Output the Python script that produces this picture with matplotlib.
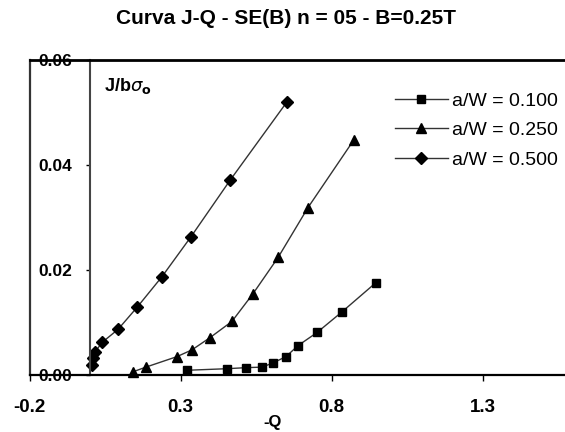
import matplotlib
matplotlib.use("Agg")
import matplotlib.pyplot as plt

# ---- data ----
x_010 = [0.321, 0.454, 0.517, 0.570, 0.606, 0.649, 0.689, 0.752, 0.834, 0.947]
y_010 = [0.0009, 0.0012, 0.0014, 0.0015, 0.0023, 0.0035, 0.0056, 0.0081, 0.0120, 0.0176]

x_025 = [0.142, 0.185, 0.288, 0.338, 0.397, 0.470, 0.540, 0.623, 0.722, 0.874]
y_025 = [0.0006, 0.0015, 0.0035, 0.0048, 0.0071, 0.0102, 0.0155, 0.0224, 0.0319, 0.0448]

x_050 = [0.007, 0.010, 0.017, 0.040, 0.093, 0.156, 0.238, 0.334, 0.464, 0.652]
y_050 = [0.0019, 0.0033, 0.0044, 0.0062, 0.0087, 0.0129, 0.0187, 0.0263, 0.0371, 0.0520]

labels = ["a/W = 0.100", "a/W = 0.250", "a/W = 0.500"]
x_ticks = [-0.2, 0.3, 0.8, 1.3]
x_ticklabels = ["-0.2", "0.3", "0.8", "1.3"]
y_ticks = [0.00, 0.02, 0.04, 0.06]
y_ticklabels = ["0.00", "0.02", "0.04", "0.06"]
title = "Curva J-Q - SE(B) n = 05 - B=0.25T"

fam = "Liberation Sans"

fig = plt.figure(figsize=(5.65, 4.32), dpi=100)
W, H = 565, 432
left_px, right_px, top_px, bot_px = 29.6, 565, 60, 375
ax = fig.add_axes([left_px / W, 1 - bot_px / H, (right_px - left_px) / W, (bot_px - top_px) / H])
ax.set_xlim(-0.2, 1.573)
ax.set_ylim(0, 0.06)

kw = dict(color="#333333", lw=1.0, mfc="black", mec="black", clip_on=False)
ax.plot(x_010, y_010, marker="s", ms=6, label=labels[0], **kw)
ax.plot(x_025, y_025, marker="^", ms=7.5, label=labels[1], **kw)
ax.plot(x_050, y_050, marker="D", ms=6, label=labels[2], **kw)

# spines
ax.spines["right"].set_visible(False)
ax.spines["top"].set_linewidth(2.0)
ax.spines["bottom"].set_linewidth(1.6)
ax.spines["left"].set_position(("data", 0))
ax.spines["left"].set_linewidth(1.5)
ax.spines["left"].set_color("#444444")
ax.axvline(-0.2, color="#333333", lw=1.6, clip_on=False)

ax.set_xticks(x_ticks)
ax.set_xticklabels(x_ticklabels, fontfamily=fam, fontweight="bold", fontsize=13.5)
ax.set_yticks(y_ticks)
ax.set_yticklabels(y_ticklabels, fontfamily=fam, fontweight="bold", fontsize=12.5)
ax.tick_params(axis="x", direction="out", length=4, width=1, pad=13)
ax.tick_params(axis="y", direction="out", length=3, width=1, pad=10)

ax.text(0.045, 0.0551, r"J/b$\sigma_{\mathbf{o}}$", fontfamily=fam, fontweight="bold",
        fontsize=13, va="center", ha="left")

leg = fig.legend(*ax.get_legend_handles_labels(), loc="upper left",
                 bbox_to_anchor=(395 / W, 1 - 92 / H), bbox_transform=fig.transFigure,
                 frameon=False, borderpad=0, borderaxespad=0,
                 prop={"family": fam, "size": 14}, handlelength=2.7, handletextpad=0.25,
                 labelspacing=0.62)

fig.text(286 / W, 1 - 19 / H, title, fontfamily=fam, fontweight="bold",
         fontsize=15, ha="center", va="center")
fig.text(273 / W, 1 - 423 / H, "-Q", fontfamily=fam, fontweight="bold",
         fontsize=12, ha="center", va="center")

fig.savefig("out.png", dpi=100)
